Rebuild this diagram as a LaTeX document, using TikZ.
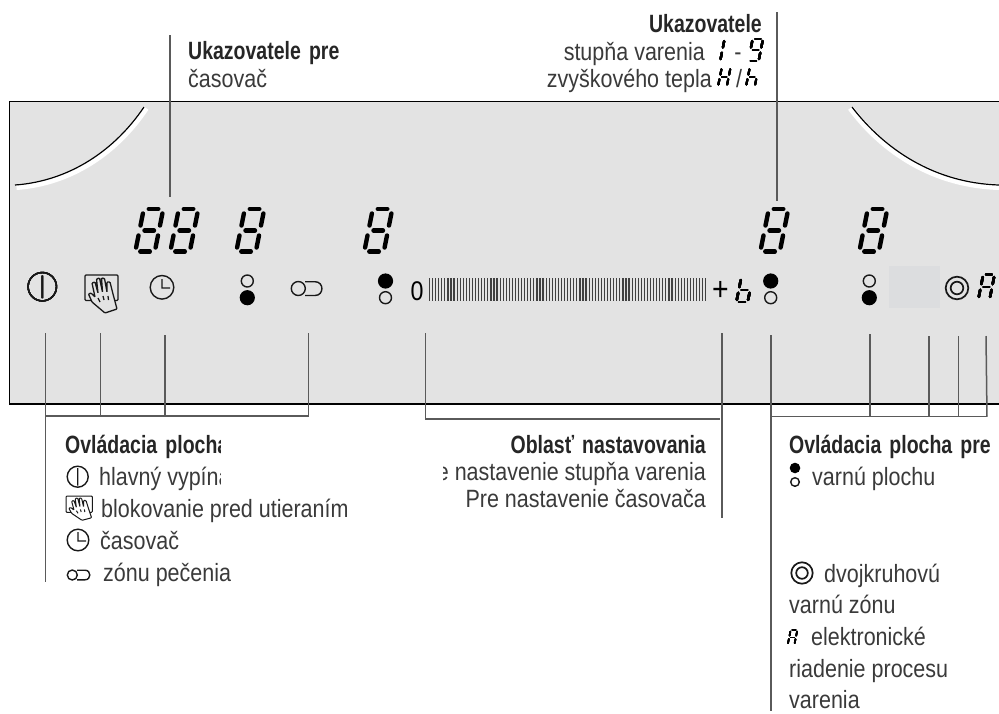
\documentclass[tikz,border=0pt]{standalone}
\usepackage{fontspec}
\setmainfont{Liberation Sans}
\newfontfamily\regf[FakeStretch=0.86]{Liberation Sans}
\newfontfamily\bldf[FakeStretch=0.78,WordSpace=1.5]{Liberation Sans Bold}
\definecolor{panel}{HTML}{E3E3E3}
\definecolor{lead}{HTML}{5A5A5A}
\definecolor{txt}{HTML}{3A3A3A}
\definecolor{greybox}{HTML}{DCDDDF}
\tikzset{
  reg/.style={inner sep=0pt,text=txt,font=\regf\fontsize{25}{27}\selectfont},
  bld/.style={inner sep=0pt,text=black!85,font=\bldf\fontsize{25}{27}\selectfont},
  leader/.style={draw=lead,line width=1.5pt},
  icon/.style={draw=black!90,line width=1.4pt},
  solid dot/.style={fill=black,draw=none},
  hollow/.style={draw=black!90,line width=1.4pt},
}
\newcommand\sevenseg[4]{%
  \begin{scope}[shift={(#1,#2)},scale=#3,xslant=.2]
    \coordinate (a1) at (7,-44);  \coordinate (a2) at (16.5,-44);
    \coordinate (b1) at (21.5,-27.5); \coordinate (b2) at (21.5,-39.5);
    \coordinate (c1) at (21.5,-5.5);  \coordinate (c2) at (21.5,-17.5);
    \coordinate (d1) at (7,-1.5); \coordinate (d2) at (16.5,-1.5);
    \coordinate (e1) at (2,-5.5);     \coordinate (e2) at (2,-17.5);
    \coordinate (f1) at (2,-27.5);    \coordinate (f2) at (2,-39.5);
    \coordinate (g1) at (7,-22.5);\coordinate (g2) at (16.5,-22.5);
    \foreach \s in {#4} \draw[black,line cap=round,line width={4.4pt*max(#3,0.36)}] (\s1) -- (\s2);
  \end{scope}}
\newcommand\handicon[6]{% x y xs ys fill lw
  \begin{scope}[shift={(#1,#2)},xscale=#3,yscale=#4,line width=#6,draw=black!90,rounded corners=1pt]
    \draw (0,0) rectangle (33,25.5);
    \draw[fill=#5,rounded corners=.8pt] (20,38) -- (7,27) -- (3.5,19) -- (6,18) -- (10,22)
      -- (7,8) -- (10,7) -- (13,18) -- (11.5,4) -- (14.5,3) -- (17.5,17)
      -- (16.5,3) -- (19.5,3.5) -- (22,17) -- (22,7) -- (25,7) -- (28,19) -- (32,34) -- cycle;
    \draw (13,23) -- (15,27) (18,21) -- (19,25) (23,21) -- (23.5,25);
  \end{scope}}
\begin{document}
\begin{tikzpicture}[x=1pt,y=-1pt]
\useasboundingbox (0,0) rectangle (999,713);
% panel
\fill[panel] (9.5,101.5) rectangle (999,404);
\draw[black,line width=1.3pt] (999,101.5) -- (9.5,101.5) -- (9.5,404) -- (999,404);
\fill[greybox] (889,266) rectangle (940,307.7);
% hob arcs
\draw[white,line width=6pt] (16.5,187) .. controls (71.5,183) and (116.5,152) .. (146,108);
\draw[black,line width=1.2pt] (15,185) .. controls (70,181) and (115,150) .. (144,107);
\draw[white,line width=6pt] (850.5,108) .. controls (883.5,152) and (933.5,185) .. (999,187);
\draw[black,line width=1.2pt] (852,107) .. controls (885,150) and (935,183) .. (999,185);
% digits
\foreach \dx in {133,168,234,362,758,857} \sevenseg{\dx}{253}{1}{a,b,c,d,e,f,g}
\sevenseg{977}{300}{.58}{a,b,c,e,f,g}
\sevenseg{735}{303}{.58}{c,d,e,f,g}
\sevenseg{708.6}{62}{.53}{b,c}
\sevenseg{747}{62}{.53}{a,b,c,d,f,g}
\sevenseg{717}{87}{.45}{b,c,e,f,g}
\sevenseg{745}{87}{.45}{c,e,f,g}
\sevenseg{787}{645}{.34}{a,b,c,e,f,g}
% panel icons
\draw[icon] (42.3,286.7) circle (14.2) (42.3,275.5) -- (42.3,298);
\handicon{85}{275}{1}{1}{panel}{1.3pt}
\draw[icon] (162,287.3) circle (11.8) (162,279) -- (162,288) -- (170,288);
\draw[hollow] (247.3,281) circle (6);
\fill[solid dot] (247.3,297.7) circle (7.6);
\draw[icon] (298.3,288.5) circle (7) (305,281.7) -- (315,281.7) .. controls (324.2,281.7) and (324.2,295.5) .. (315,295.5) -- (305,295.5);
\fill[solid dot] (385.5,281) circle (7.6);
\draw[hollow] (385.5,297.7) circle (6);
\fill[solid dot] (770.7,281) circle (7.6);
\draw[hollow] (770.7,297.7) circle (6);
\draw[hollow] (869.3,281) circle (6);
\fill[solid dot] (869.3,297.7) circle (7.6);
\draw[icon,line width=1.7pt] (957,288) circle (11.3) (957,288) circle (6.3);
% slider
\foreach \n in {0,...,90} \draw[black!75,line width=1.2pt] ({429.5+\n*3.07},278) -- ++(0,23);
\node[reg,anchor=base west,font=\regf\fontsize{27}{29}\selectfont,text=black] (zero) at (410.5,300) {0};
\node[reg,anchor=center,font=\regf\fontsize{33}{35}\selectfont,text=black] (plus) at (720.5,291) {+};
% leaders
\coordinate (t1) at (170,35);  \coordinate (t2) at (170,197);
\coordinate (u1) at (777,12);  \coordinate (u2) at (777,201);
\coordinate (l1) at (45.7,333); \coordinate (l1b) at (45.7,582);
\coordinate (l2) at (100.7,333); \coordinate (l2b) at (100.7,416);
\coordinate (l3) at (165.2,335); \coordinate (l3b) at (165.2,416);
\coordinate (l4) at (308.7,333); \coordinate (l4b) at (308.7,416);
\coordinate (lh) at (45.7,416);
\coordinate (cc1) at (425.7,333); \coordinate (cc1b) at (425.7,419);
\coordinate (cc2) at (722,333); \coordinate (cc2b) at (722,518); \coordinate (ch) at (720,419);
\coordinate (r1) at (771,335); \coordinate (r1b) at (771,711); \coordinate (rh) at (771,416.7);
\coordinate (r2) at (870,334); \coordinate (r2b) at (870,416.7);
\coordinate (r3) at (929,336); \coordinate (r3b) at (929,416.7);
\coordinate (r4) at (958.7,336); \coordinate (r4b) at (958.7,416.7);
\coordinate (r5) at (986,336); \coordinate (r5b) at (987,416.7);
\draw[leader] (t1) -- (t2);
\draw[leader] (u1) -- (u2);
\draw[leader] (l1) -- (l1b);
\draw[leader] (l2) -- (l2b);
\draw[leader] (l3) -- (l3b);
\draw[leader] (l4) -- (l4b);
\draw[leader] (lh) -- (l4b);
\draw[leader] (cc1) -- (cc1b) -- (ch);
\draw[leader] (cc2) -- (cc2b);
\draw[leader] (r1) -- (r1b);
\draw[leader] (r2) -- (r2b);
\draw[leader] (r3) -- (r3b);
\draw[leader] (r4) -- (r4b);
\draw[leader] (r5) -- (r5b);
\draw[leader] (rh) -- (r5b);
% top texts
\node[bld,anchor=base west] (tpre) at (188,59) {Ukazovatele pre};
\node[reg,anchor=base west] (tcas) at (188,87) {časovač};
\node[bld,anchor=base east] (tuka) at (762,32.7) {Ukazovatele};
\node[reg,anchor=base east] (tstu) at (705,60) {stupňa varenia};
\node[reg,anchor=base east] (tzvy) at (712,87) {zvyškového tepla};
\node[reg,anchor=base] (tdash) at (738,60) {-};
\node[reg,anchor=base] (tslash) at (739,87) {/};
% left legend
\begin{scope}
\clip (60,430) rectangle (220,495);
\node[bld,anchor=base west] (lhead) at (65,453) {Ovládacia plocha};
\node[reg,anchor=base west] (lhl) at (99,485) {hlavný vypína};
\end{scope}
\draw[icon] (77.7,476.7) circle (10.5) (77.7,468) -- (77.7,485.5);
\handicon{66}{496}{.8}{.64}{white}{1pt}
\node[reg,anchor=base west] (lbl) at (101,517) {blokovanie pred utieraním};
\draw[icon] (78,540) circle (10.8) (78,532) -- (78,541) -- (86,541);
\node[reg,anchor=base west] (lcas) at (100,549) {časovač};
\draw[icon] (72.3,575) circle (5) (77,570.2) -- (85,570.2) .. controls (91.4,570.2) and (91.4,579.8) .. (85,579.8) -- (77,579.8);
\node[reg,anchor=base west] (lzon) at (103,581) {zónu pečenia};
% centre legend
\node[bld,anchor=base east] (chead) at (706,453) {Oblasť nastavovania};
\begin{scope}
\clip (443,460) rectangle (720,490);
\node[reg,anchor=base east] (cl1) at (706,480) {e nastavenie stupňa varenia};
\end{scope}
\node[reg,anchor=base east] (cl2) at (706,507.7) {Pre nastavenie časovača};
% right legend
\node[bld,anchor=base west] (rhead) at (789,453) {Ovládacia plocha pre};
\fill[solid dot] (795,468) circle (5.3);
\draw[hollow] (795,482) circle (4.3);
\node[reg,anchor=base west] (rv) at (812,485) {varnú plochu};
\draw[icon,line width=1.7pt] (802,573) circle (10.7) (802,573) circle (5.8);
\node[reg,anchor=base west] (rd) at (824,582) {dvojkruhovú};
\node[reg,anchor=base west] (rz) at (789,613) {varnú zónu};
\node[reg,anchor=base west] (re) at (811,645) {elektronické};
\node[reg,anchor=base west] (rr) at (789,677) {riadenie procesu};
\node[reg,anchor=base west] (rw) at (789,708) {varenia};
\end{tikzpicture}
\end{document}
